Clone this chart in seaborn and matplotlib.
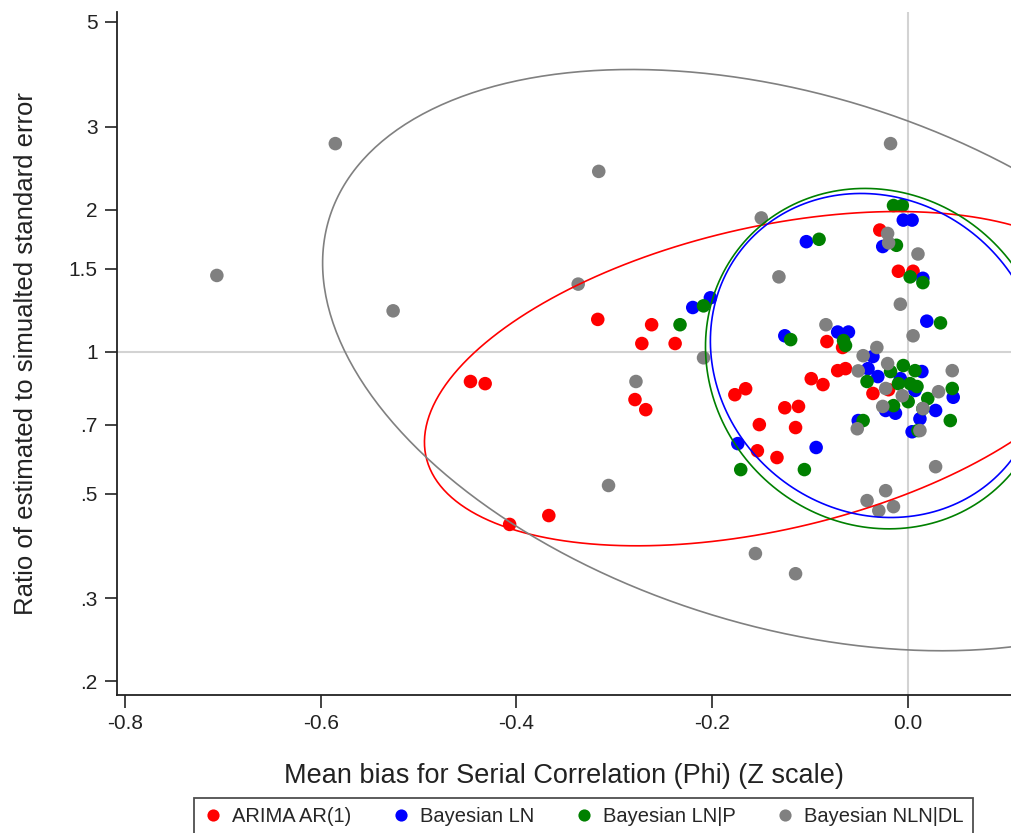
import numpy as np
import pandas as pd
import matplotlib
matplotlib.use("Agg")
import matplotlib.pyplot as plt
import seaborn as sns

# Group names and colours
GROUPS = ["ARIMA AR(1)", "Bayesian LN", "Bayesian LN|P", "Bayesian NLN|DL"]
COLORS = ["#ff0000", "#0000ff", "#008000", "#808080"]

# Mean bias (x) and SE ratio (y)
arima_x = [-0.317, -0.262, -0.272, -0.238, -0.447, -0.432, -0.279, -0.268, -0.407, -0.367,
           -0.029, -0.010, 0.005, -0.083, -0.067, -0.072, -0.064, -0.099, -0.087, -0.166,
           -0.177, -0.126, -0.112, -0.152, -0.115, -0.154, -0.134, -0.036, -0.020]
arima_y = [1.17, 1.14, 1.04, 1.04, 0.864, 0.855, 0.791, 0.753, 0.43, 0.449,
           1.81, 1.48, 1.48, 1.05, 1.02, 0.911, 0.92, 0.876, 0.851, 0.834,
           0.81, 0.76, 0.765, 0.70, 0.69, 0.616, 0.596, 0.815, 0.83]

ln_x = [-0.220, -0.202, -0.104, -0.174, -0.094, -0.126, -0.005, 0.004, -0.026, 0.015,
        0.019, -0.072, -0.061, -0.036, -0.041, -0.008, 0.014, 0.007, -0.023, -0.013,
        0.012, 0.028, 0.046, -0.051, 0.004, -0.031]
ln_y = [1.24, 1.30, 1.71, 0.638, 0.626, 1.08, 1.90, 1.90, 1.67, 1.43,
        1.16, 1.10, 1.10, 0.976, 0.92, 0.876, 0.907, 0.827, 0.75, 0.74,
        0.72, 0.75, 0.80, 0.714, 0.676, 0.885]

lnp_x = [-0.233, -0.209, -0.091, -0.120, -0.171, -0.106, -0.015, -0.006, -0.012, 0.002,
         0.015, 0.033, -0.066, -0.064, -0.042, -0.018, -0.005, 0.007, 0.002, -0.010,
         0.009, -0.015, 0.000, 0.020, 0.015, 0.045, 0.043, -0.046, 0.010]
lnp_y = [1.14, 1.25, 1.73, 1.06, 0.562, 0.562, 2.04, 2.04, 1.68, 1.44,
         1.40, 1.15, 1.055, 1.03, 0.864, 0.907, 0.934, 0.911, 0.855, 0.855,
         0.843, 0.768, 0.783, 0.795, 0.757, 0.835, 0.714, 0.714, 0.68]

nln_x = [-0.706, -0.585, -0.526, -0.316, -0.337, -0.278, -0.306, -0.156, -0.115, -0.018,
         -0.150, -0.132, -0.209, -0.021, -0.020, 0.010, -0.008, 0.005, -0.084, -0.032,
         -0.046, -0.051, -0.021, -0.023, -0.006, -0.026, 0.015, 0.031, 0.045, -0.052,
         0.012, 0.028, -0.023, -0.042, -0.030, -0.015]
nln_y = [1.45, 2.76, 1.22, 2.41, 1.39, 0.864, 0.52, 0.373, 0.338, 2.76,
         1.92, 1.44, 0.97, 1.78, 1.70, 1.61, 1.26, 1.08, 1.14, 1.02,
         0.98, 0.91, 0.943, 0.835, 0.806, 0.765, 0.757, 0.822, 0.911, 0.686,
         0.68, 0.57, 0.507, 0.483, 0.46, 0.469]

# Prediction ellipses: centre, half extents (x, log y) and correlation
ell_cx = [-0.144, -0.033, -0.032, -0.124]
ell_cy = [0.876, 0.981, 0.966, 0.959]
ell_hx = [0.350, 0.169, 0.175, 0.474]
ell_hy = [0.816, 0.791, 0.831, 1.419]
ell_rho = [0.38, -0.09, -0.07, -0.334]

y_ticks = [0.2, 0.3, 0.5, 0.7, 1, 1.5, 2, 3, 5]
y_tick_labels = [".2", ".3", ".5", ".7", "1", "1.5", "2", "3", "5"]
x_ticks = [-0.8, -0.6, -0.4, -0.2, 0.0]
x_tick_labels = ["-0.8", "-0.6", "-0.4", "-0.2", "0.0"]

# Build one long table
frames = []
for name, xs, ys in zip(GROUPS, [arima_x, ln_x, lnp_x, nln_x], [arima_y, ln_y, lnp_y, nln_y]):
    frames.append(pd.DataFrame({"bias": xs, "ratio": ys, "method": name}))
df = pd.concat(frames, ignore_index=True)

sns.set_theme(style="ticks")
plt.rcParams["font.family"] = ["Liberation Sans", "DejaVu Sans"]

fig = plt.figure(figsize=(10.11, 8.33), dpi=100)
ax = fig.add_axes([0.1157, 0.1657, 0.8843, 0.82])
ax.set_yscale("log")

# reference lines
ax.axvline(0, color="#d3d3d3", lw=1.5, zorder=0)
ax.axhline(1, color="#d3d3d3", lw=1.5, zorder=0)

sns.scatterplot(data=df, x="bias", y="ratio", hue="method", hue_order=GROUPS,
                palette=COLORS, s=95, edgecolor="none", linewidth=0, ax=ax, zorder=2)

# ellipses in (x, log y) space
t = np.linspace(0, 2 * np.pi, 400)
for i in range(4):
    ex = ell_cx[i] + ell_hx[i] * np.cos(t)
    ely = np.log(ell_cy[i]) + ell_hy[i] * (ell_rho[i] * np.cos(t)
                                           + np.sqrt(1 - ell_rho[i] ** 2) * np.sin(t))
    ax.plot(ex, np.exp(ely), color=COLORS[i], lw=1.2, zorder=3)

ax.set_xlim(-0.808, 0.105)
ax.set_ylim(0.187, 5.25)
ax.set_xticks(x_ticks)
ax.set_xticklabels(x_tick_labels)
ax.set_yticks(y_ticks)
ax.set_yticklabels(y_tick_labels)
ax.minorticks_off()
ax.tick_params(axis="both", length=9, width=1.2, color="#222222", labelsize=15,
               labelcolor="#222222", pad=5)

ax.set_xlabel("Mean bias for Serial Correlation (Phi) (Z scale)", fontsize=19.5,
              color="#222222", labelpad=21)
ax.set_ylabel("Ratio of estimated to simualted standard error", fontsize=18.5,
              color="#222222", labelpad=22)

for side in ["left", "bottom"]:
    ax.spines[side].set_color("#222222")
    ax.spines[side].set_linewidth(1.3)
ax.spines["right"].set_visible(False)
ax.spines["top"].set_visible(False)

# legend at the bottom of the figure
handles, labels = ax.get_legend_handles_labels()
ax.get_legend().remove()
leg = fig.legend(handles, labels, loc="upper center", bbox_to_anchor=(0.577, 0.054),
                 ncol=4, frameon=True, fancybox=False, edgecolor="#222222",
                 fontsize=14.5, handlelength=1.0, handletextpad=0.45, columnspacing=1.95,
                 borderpad=0.45, markerscale=0.9)
leg.get_frame().set_linewidth(1.3)

fig.savefig("out.png", dpi=100)
